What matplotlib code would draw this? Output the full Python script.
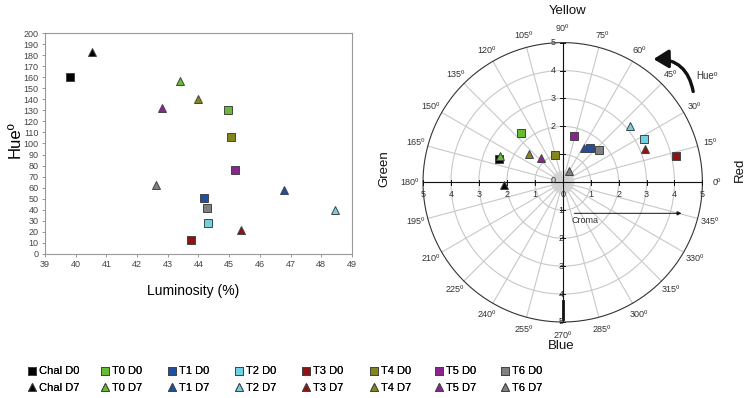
import numpy as np
import matplotlib
matplotlib.use("Agg")
import matplotlib.pyplot as plt
from matplotlib.lines import Line2D
from matplotlib.patches import FancyArrowPatch
from matplotlib import font_manager

names = {f.name for f in font_manager.fontManager.ttflist}
FONT = 'Liberation Sans Narrow' if 'Liberation Sans Narrow' in names else 'Liberation Sans'
plt.rcParams['font.family'] = [FONT, 'DejaVu Sans']

# ---------------- data ----------------
samples = ["Chal", "T0", "T1", "T2", "T3", "T4", "T5", "T6"]
colors = ["#000000", "#66bb33", "#1f4fa3", "#70d0e4", "#8e1414", "#858520", "#8a2590", "#808080"]

lum_d0 = [39.81, 44.97, 44.18, 44.31, 43.74, 45.05, 45.18, 44.27]
hue_d0 = [160, 130, 51, 28, 13, 106, 76, 42]
chroma_d0 = [2.41, 2.32, 1.56, 3.28, 4.16, 1.00, 1.72, 1.73]

lum_d7 = [40.53, 43.40, 46.79, 48.45, 45.37, 43.99, 42.82, 42.62]
hue_d7 = [183, 157, 58, 40, 22, 140, 132, 62]
chroma_d7 = [2.12, 2.44, 1.46, 3.16, 3.17, 1.56, 1.16, 0.47]

SQ = dict(marker='s', ms=5.6, mec='#444444', mew=0.7, ls='none')
TR = dict(marker='^', ms=6.2, mec='#444444', mew=0.7, ls='none')

fig = plt.figure(figsize=(7.5, 3.98), dpi=100)

# ---------------- left scatter ----------------
ax = fig.add_axes([0.06, 0.362, 0.4093, 0.555])
for i, s in enumerate(samples):
    ax.plot(lum_d0[i], hue_d0[i], mfc=colors[i], clip_on=False, **SQ)
    ax.plot(lum_d7[i], hue_d7[i], mfc=colors[i], clip_on=False, **TR)
ax.set_xlim(39, 49)
ax.set_ylim(0, 200)
ax.set_xticks(np.arange(39, 50, 1))
ax.set_yticks(np.arange(0, 201, 10))
ax.tick_params(labelsize=6.5, length=2.5, width=0.6, color='#888888', labelcolor='#444444', pad=2)
for sp in ax.spines.values():
    sp.set_color('#999999')
    sp.set_linewidth(0.8)
ax.set_xlabel("Luminosity (%)", fontsize=10)
ax.set_ylabel("Hueº", fontsize=12)
ax.yaxis.set_label_coords(-0.072, 0.516)
ax.xaxis.set_label_coords(0.482, -0.136)

# ---------------- right "polar" ----------------
U = 27.94  # px per unit
cx, cy = 562.7, 182.3
L = 6.5
pa = fig.add_axes([(cx - L * U) / 750, 1 - (cy + L * U) / 398, 2 * L * U / 750, 2 * L * U / 398])
pa.set_xlim(-L, L)
pa.set_ylim(-L, L)
pa.axis('off')

t = np.linspace(0, 2 * np.pi, 400)
for r in [1, 2, 3, 4]:
    pa.plot(r * np.cos(t), r * np.sin(t), color='#c8c8c8', lw=0.8, zorder=1)
pa.plot(5 * np.cos(t), 5 * np.sin(t), color='#333333', lw=0.8, zorder=2)
for a in range(0, 360, 15):
    ar = np.deg2rad(a)
    pa.plot([0, 5 * np.cos(ar)], [0, 5 * np.sin(ar)], color='#c8c8c8', lw=0.8, zorder=1)
for a in range(0, 360, 5):
    ar = np.deg2rad(a)
    pa.plot([0, 0.4 * np.cos(ar)], [0, 0.4 * np.sin(ar)], color='#d0d0d0', lw=0.6, zorder=1)
# axes cross
pa.plot([-5, 5], [0, 0], color='#111111', lw=0.8, zorder=3)
pa.plot([0, 0], [-5, 5], color='#111111', lw=0.8, zorder=3)
pa.plot([0, 0], [-4.24, -4.9], color='#111111', lw=2.0, zorder=3)
for k in range(-5, 6):
    pa.plot([k, k], [-0.08, 0.08], color='#111111', lw=0.7, zorder=3)
    pa.plot([-0.08, 0.08], [k, k], color='#111111', lw=0.7, zorder=3)
    pa.text(k, -0.45, str(abs(k)), ha='center', va='center', fontsize=6.5, color='#333333')
for k in range(1, 6):
    pa.text(-0.33, k, str(k), ha='center', va='center', fontsize=6.5, color='#333333')
    pa.text(-0.05, -k, str(k), ha='center', va='center', fontsize=6.5, color='#333333')
pa.text(-0.33, 0.05, "0", ha='center', va='center', fontsize=6.5, color='#333333')

# angle labels
for a in range(0, 360, 15):
    ar = np.deg2rad(a)
    rr = 5.45 if a % 90 else 5.5
    pa.text(rr * np.cos(ar), rr * np.sin(ar), f"{a}º", ha='center', va='center',
            fontsize=6.5, color='#333333')

# data markers
for i, s in enumerate(samples):
    h0 = np.deg2rad(hue_d0[i]); h7 = np.deg2rad(hue_d7[i])
    pa.plot(chroma_d0[i] * np.cos(h0), chroma_d0[i] * np.sin(h0), mfc=colors[i], zorder=5, **SQ)
    pa.plot(chroma_d7[i] * np.cos(h7), chroma_d7[i] * np.sin(h7), mfc=colors[i], zorder=5, **TR)

# croma arrow
pa.annotate("", xy=(4.35, -1.11), xytext=(0.32, -1.11),
            arrowprops=dict(arrowstyle='-|>', color='#111111', lw=0.7, mutation_scale=6))
pa.text(0.32, -1.35, "Croma", ha='left', va='center', fontsize=6.5, color='#333333')

# hue curved arrow
arr = FancyArrowPatch((4.67, 3.25), (3.25, 4.41), connectionstyle="arc3,rad=0.42",
                      arrowstyle='-|>,head_length=0.9,head_width=0.55', lw=2.4, color='#111111',
                      mutation_scale=10, shrinkA=0, shrinkB=0)
pa.add_patch(arr)
pa.text(5.17, 3.80, "Hueº", ha='center', va='center', fontsize=7, color='#333333')

pa.text(0.18, 6.13, "Yellow", ha='center', va='center', fontsize=9.5, color='#111111')
pa.text(-0.04, -5.85, "Blue", ha='center', va='center', fontsize=9.5, color='#111111')
pa.text(-6.4, 0.48, "Green", ha='center', va='center', fontsize=9.5, rotation=90, color='#111111')
pa.text(6.35, 0.44, "Red", ha='center', va='center', fontsize=9.5, rotation=90, color='#111111')

# ---------------- legend (one small legend per sample column) ----------------
col_x = [33, 106, 173, 240, 307, 375, 440, 506]
for i, s in enumerate(samples):
    h = [Line2D([], [], mfc=colors[i], **SQ), Line2D([], [], mfc=colors[i], **TR)]
    lg = fig.legend(h, [f"{s} D0", f"{s} D7"], loc='center left',
                    bbox_to_anchor=((col_x[i] - 5) / 750, 1 - 379.5 / 398),
                    frameon=False, fontsize=8, handlelength=0.75, handletextpad=0.25,
                    labelspacing=0.55, borderpad=0, borderaxespad=0)
    fig.add_artist(lg)

fig.savefig("out.png", dpi=100)
